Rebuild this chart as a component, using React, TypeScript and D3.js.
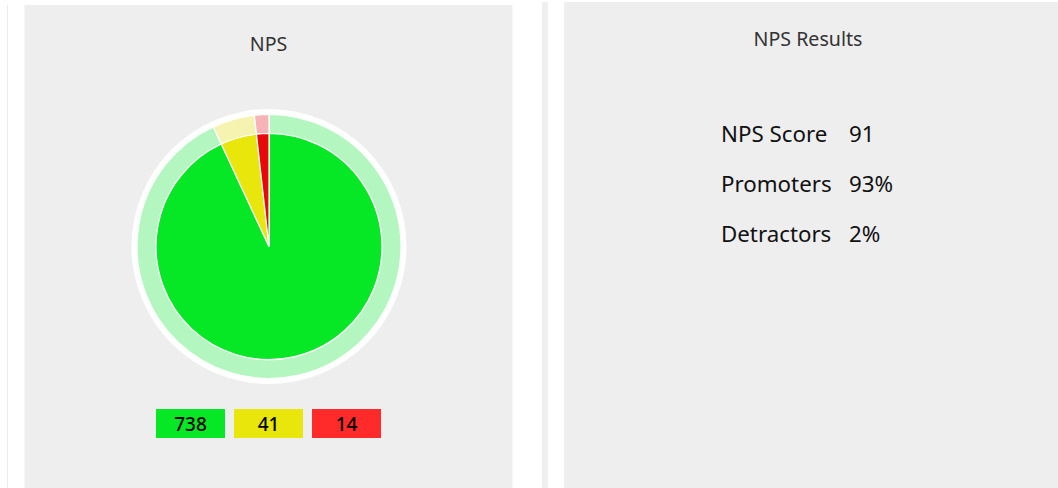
import React from "react";
import * as d3 from "d3";

const categories = ["Promoters", "Passives", "Detractors"];
const counts = [738, 41, 14];
const innerColors = ["#06e826", "#e8e60a", "#e80a0a"];
const ringColors = ["#b4f6c0", "#f6f3b0", "#f6b4b8"];
const legendColors = ["#06e826", "#e8e60a", "#ff2a2a"];
const resultLabels = ["NPS Score", "Promoters", "Detractors"];
const resultValues = ["91", "93%", "2%"];

const W = 1058;
const H = 488;
const FONT = "'Noto Sans', 'Open Sans', sans-serif";

export default function App() {
  const cx = 269;
  const cy = 246.5;
  const pie = d3
    .pie<number>()
    .sort(null)
    .value((d) => d)
    .startAngle(0)
    .endAngle(2 * Math.PI);
  const arcs = pie(counts);
  const innerArc = d3.arc<d3.PieArcDatum<number>>().innerRadius(0).outerRadius(113);
  const ringArc = d3.arc<d3.PieArcDatum<number>>().innerRadius(113).outerRadius(132);

  const legendX = d3
    .scaleBand<string>()
    .domain(categories)
    .range([156, 381])
    .paddingInner(9 / 78);

  const rowY = d3.scalePoint<string>().domain(resultLabels).range([142, 242]);

  return (
    <svg
      width={W}
      height={H}
      style={{ position: "absolute", left: 0, top: 0, display: "block" }}
      fontFamily={FONT}
    >
      <rect x={0} y={0} width={W} height={H} fill="#ffffff" />
      <rect x={7} y={5} width={1} height={H} fill="#ececec" />
      <rect x={24.5} y={5} width={488} height={H} fill="#eeeeee" />
      <rect x={542} y={2} width={6} height={H} fill="#efefef" />
      <rect x={564} y={2} width={W - 564} height={H} fill="#eeeeee" />

      <text x={268.5} y={50.7} textAnchor="middle" fontSize={19.6} fill="#333">
        NPS
      </text>
      <text x={808} y={45.7} textAnchor="middle" fontSize={19.6} fill="#333">
        NPS Results
      </text>

      <g transform={`translate(${cx},${cy})`}>
        <circle r={137.5} fill="#ffffff" />
        {arcs.map((a, i) => (
          <path key={"r" + i} d={ringArc(a) || ""} fill={ringColors[i]} stroke="#ffffff" strokeWidth={1.2} />
        ))}
        {arcs.map((a, i) => (
          <path key={"p" + i} d={innerArc(a) || ""} fill={innerColors[i]} stroke="#ffffff" strokeWidth={1.2} />
        ))}
      </g>

      {categories.map((c, i) => (
        <g key={c}>
          <rect x={legendX(c)} y={409} width={legendX.bandwidth()} height={29} fill={legendColors[i]} />
          <text
            x={(legendX(c) || 0) + legendX.bandwidth() / 2}
            y={430.5}
            textAnchor="middle"
            fontSize={19}
            fontWeight={500}
            fill="#000"
          >
            {counts[i]}
          </text>
        </g>
      ))}

      {resultLabels.map((l, i) => (
        <g key={l}>
          <text x={721} y={rowY(l)} fontSize={22.3} fill="#111">
            {l}
          </text>
          <text x={849} y={rowY(l)} fontSize={22.3} fill="#111">
            {resultValues[i]}
          </text>
        </g>
      ))}
    </svg>
  );
}
